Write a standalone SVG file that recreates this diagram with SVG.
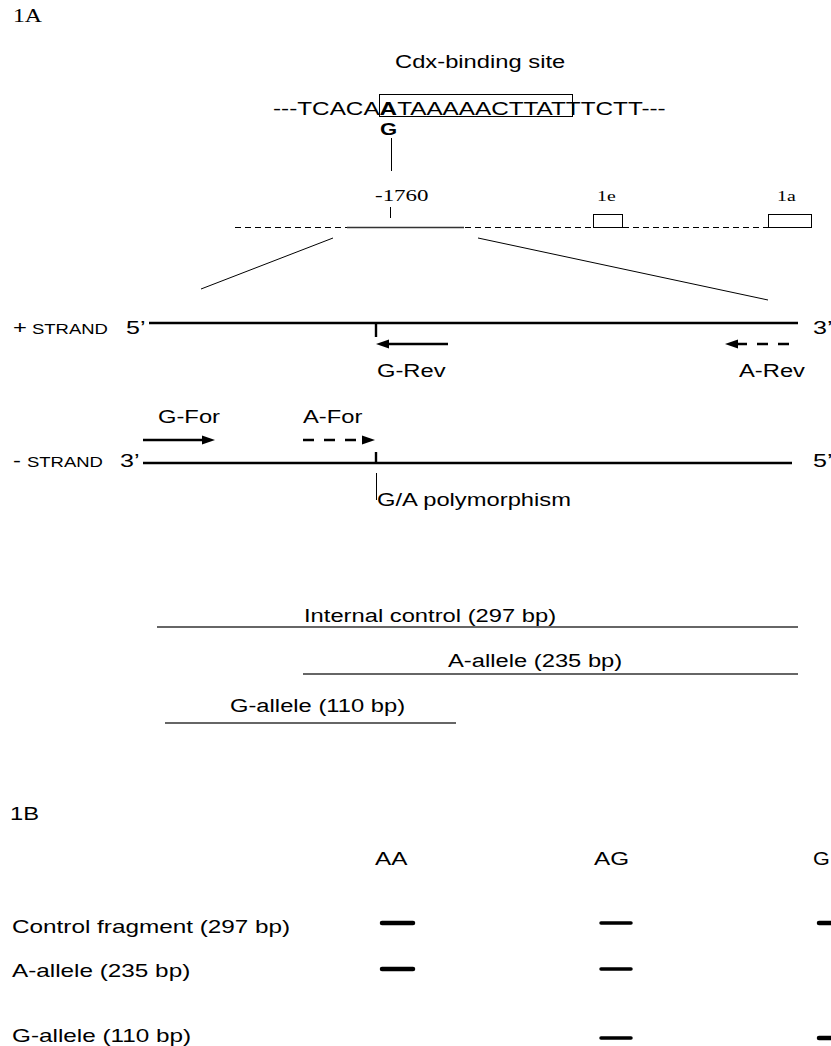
<svg xmlns="http://www.w3.org/2000/svg" width="831" height="1046" viewBox="0 0 831 1046">
<defs>
<style>
.s{font-family:"Liberation Sans",Arial,sans-serif;font-size:18px;fill:#000}
.t{font-family:"Liberation Serif","Times New Roman",serif;font-size:18px;fill:#000}
.ln{stroke:#000;stroke-width:1;fill:none}
.th{stroke:#000;stroke-width:2.4;fill:none}
.gr{stroke:#333;stroke-width:1.4;fill:none}
.ds{stroke:#000;stroke-width:1;stroke-dasharray:6 4;fill:none}
.ad{stroke:#000;stroke-width:2.4;stroke-dasharray:11 10;fill:none}
.band{stroke:#000;stroke-linecap:round;fill:none}
</style>
</defs>
<rect width="831" height="1046" fill="#fff"/>

<g id="label-1A"><text class="t" transform="translate(13 22) scale(1.32 1)">1A</text></g>

<g id="cdx-site">
<text class="s" transform="translate(395 68) scale(1.32 1)">Cdx-binding site</text>
<text class="s" transform="translate(273 115) scale(1.35 1)">---TCACA<tspan font-weight="bold">A</tspan>TAAAAACTTAT<tspan>TTCTT---</tspan></text>
<rect x="379.5" y="94.5" width="193" height="22" class="ln"/>
<text class="s" font-weight="bold" style="font-size:17px" transform="translate(380 135) scale(1.3 1)">G</text>
</g>

<g id="promoter-map">
<text class="t" style="font-size:17px" transform="translate(375 201) scale(1.35 1)">-1760</text>
<line x1="390.5" y1="207" x2="390.5" y2="218" class="ln"/>
<text class="t" style="font-size:15px" transform="translate(597 201) scale(1.32 1)">1e</text>
<text class="t" style="font-size:15px" transform="translate(777 201) scale(1.32 1)">1a</text>
<line x1="235" y1="227.5" x2="593" y2="227.5" class="ds"/>
<line x1="623" y1="227.5" x2="768" y2="227.5" class="ds"/>
<line x1="347" y1="227.5" x2="464" y2="227.5" class="gr" stroke-width="1"/>
<rect x="593.5" y="214.5" width="29" height="13" class="ln"/>
<rect x="768.5" y="214.5" width="43" height="13" class="ln"/>
</g>

<g id="plus-strand">
<text class="s" transform="translate(13 334) scale(1.32 1)">+</text>
<text class="s" style="font-size:14px" transform="translate(32 334) scale(1.32 1)">STRAND</text>
<text class="s" style="font-size:19px" transform="translate(126 334) scale(1.32 1)">5’</text>
<line x1="149" y1="323" x2="798" y2="323" class="th"/>
<text class="s" style="font-size:19px" transform="translate(813 334) scale(1.32 1)">3’</text>
<line x1="376" y1="323" x2="376" y2="337" class="th"/>
</g>

<g id="g-rev">
<text class="s" transform="translate(377 377) scale(1.32 1)">G-Rev</text>
</g>
<g id="a-rev">
<text class="s" transform="translate(739 377) scale(1.32 1)">A-Rev</text>
</g>
<g id="g-for">
<text class="s" transform="translate(158 423) scale(1.32 1)">G-For</text>
</g>
<g id="a-for">
<text class="s" transform="translate(303 423) scale(1.32 1)">A-For</text>
</g>

<g id="minus-strand">
<text class="s" transform="translate(13 467) scale(1.32 1)">-</text>
<text class="s" style="font-size:14px" transform="translate(27 467) scale(1.32 1)">STRAND</text>
<text class="s" style="font-size:19px" transform="translate(120 467) scale(1.32 1)">3’</text>
<line x1="143" y1="463" x2="792" y2="463" class="th"/>
<text class="s" style="font-size:19px" transform="translate(813 467) scale(1.32 1)">5’</text>
<line x1="376" y1="452" x2="376" y2="463" class="th"/>
</g>

<g id="polymorphism">
<text class="s" transform="translate(377 506) scale(1.32 1)">G/A polymorphism</text>
</g>

<g id="connectors">
<line x1="391.5" y1="138" x2="391.5" y2="171" class="ln"/>
<line x1="333" y1="238" x2="201" y2="289" class="ln"/>
<line x1="478" y1="238" x2="768" y2="300" class="ln"/>
<line x1="448" y1="344" x2="386" y2="344" class="th"/>
<polygon points="376,344 389,339.5 389,348.5" fill="#000"/>
<line x1="789" y1="344" x2="737" y2="344" class="ad"/>
<polygon points="725,344 738,339.5 738,348.5" fill="#000"/>
<line x1="143" y1="440" x2="205" y2="440" class="th"/>
<polygon points="215,440 202,435.5 202,444.5" fill="#000"/>
<line x1="303" y1="440" x2="363" y2="440" class="ad"/>
<polygon points="375,440 362,435.5 362,444.5" fill="#000"/>
<line x1="376.5" y1="473" x2="376.5" y2="500" class="ln"/>
</g>

<g id="products">
<text class="s" transform="translate(304 622) scale(1.32 1)">Internal control (297 bp)</text>
<line x1="157" y1="627" x2="798" y2="627" class="gr"/>
<text class="s" transform="translate(448 667) scale(1.32 1)">A-allele (235 bp)</text>
<line x1="303" y1="674" x2="798" y2="674" class="gr"/>
<text class="s" transform="translate(230 712) scale(1.32 1)">G-allele (110 bp)</text>
<line x1="165" y1="723" x2="456" y2="723" class="gr"/>
</g>

<g id="label-1B"><text class="s" transform="translate(10 820) scale(1.32 1)">1B</text></g>

<g id="gel">
<text class="s" transform="translate(375 865) scale(1.35 1)">AA</text>
<text class="s" transform="translate(594 865) scale(1.35 1)">AG</text>
<text class="s" transform="translate(813 865) scale(1.2 1)">G</text>
<text class="s" transform="translate(12 933) scale(1.35 1)">Control fragment (297 bp)</text>
<text class="s" transform="translate(12 977) scale(1.35 1)">A-allele (235 bp)</text>
<text class="s" transform="translate(12 1042) scale(1.35 1)">G-allele (110 bp)</text>
<line x1="382" y1="923" x2="413" y2="923" class="band" stroke-width="4.5"/>
<line x1="601" y1="923" x2="631" y2="923" class="band" stroke-width="3.5"/>
<line x1="819" y1="923" x2="840" y2="923" class="band" stroke-width="4.5"/>
<line x1="382" y1="969" x2="413" y2="969" class="band" stroke-width="4.5"/>
<line x1="601" y1="969" x2="631" y2="969" class="band" stroke-width="3.5"/>
<line x1="601" y1="1038" x2="631" y2="1038" class="band" stroke-width="3.5"/>
<line x1="819" y1="1038" x2="840" y2="1038" class="band" stroke-width="4.5"/>
</g>
</svg>
